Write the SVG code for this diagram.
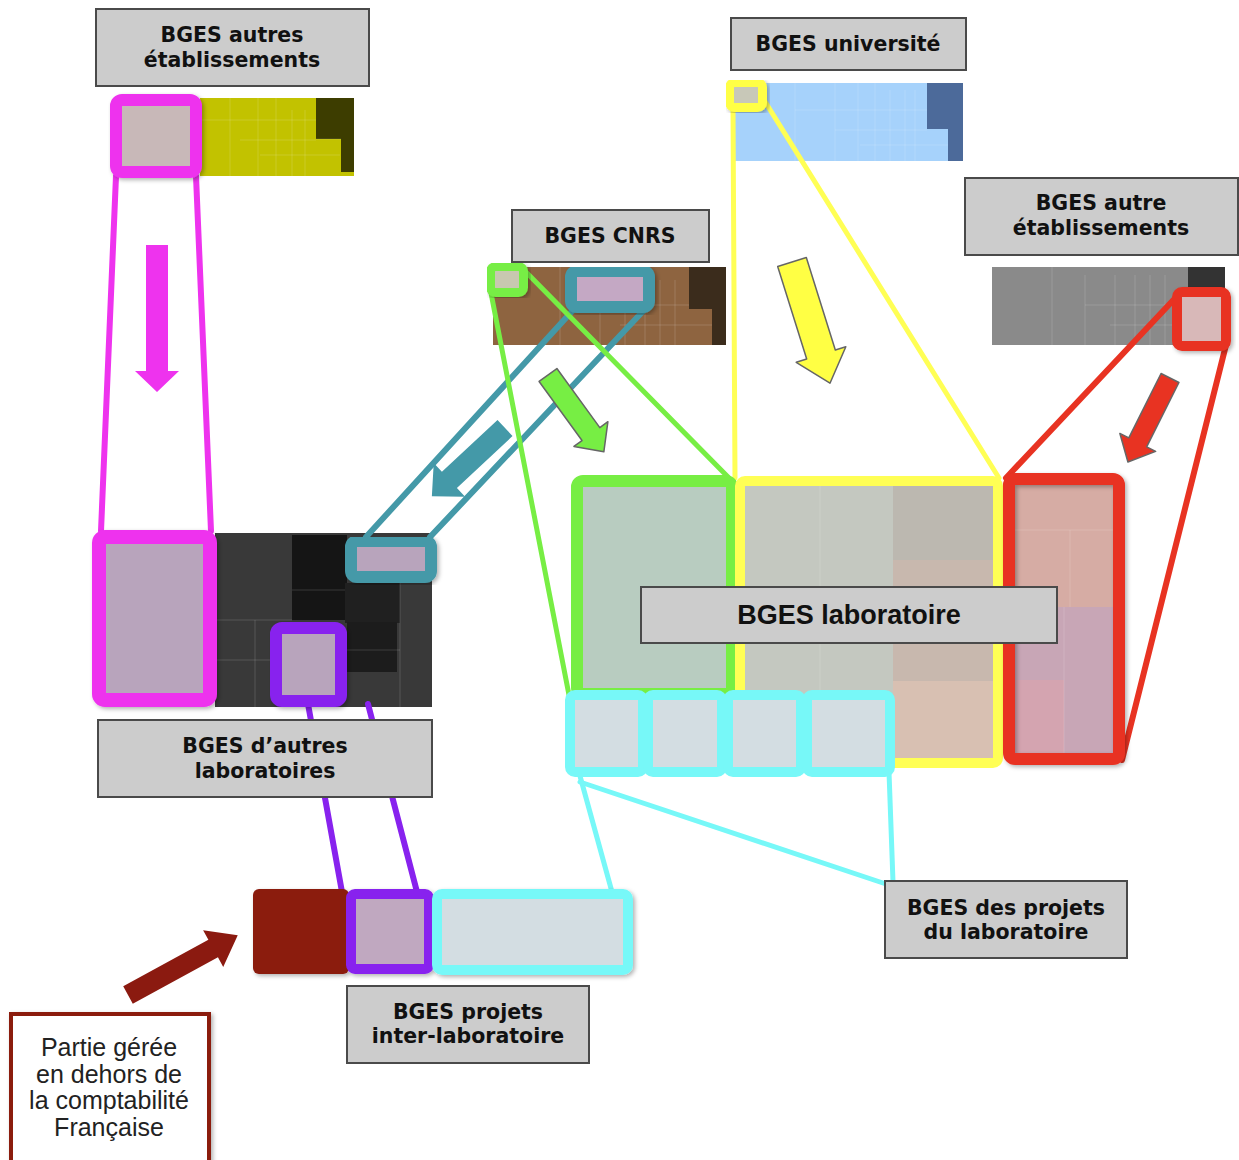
<svg xmlns="http://www.w3.org/2000/svg" width="1239" height="1160" viewBox="0 0 1239 1160">
<defs>
<style>
.lbl{fill:#cccccc;stroke:#4a4a4a;stroke-width:2}
.t{font-family:"DejaVu Sans",Verdana,sans-serif;font-weight:bold;font-size:20.5px;fill:#111;text-anchor:middle}
.tl{font-family:"Liberation Sans",Arial,sans-serif;font-weight:bold;font-size:27px;fill:#111;text-anchor:middle}
.tp{font-family:"Liberation Sans",Arial,sans-serif;font-size:25px;fill:#222;text-anchor:middle}
.ln{fill:none;stroke-linecap:round}
.grid{stroke:#ffffff;stroke-opacity:0.15;stroke-width:1;fill:none}
.arr{stroke:#666;stroke-width:1.5;stroke-linejoin:round}
</style>
<filter id="sh" x="-10%" y="-10%" width="130%" height="130%">
<feDropShadow dx="2" dy="2" stdDeviation="2" flood-color="#000" flood-opacity="0.3"/>
</filter>
</defs>
<rect width="1239" height="1160" fill="#ffffff"/>

<!-- treemaps -->
<g id="tm-autres-etab">
<rect x="200" y="98" width="154" height="78" fill="#c2c200"/>
<rect x="316" y="98" width="38" height="41" fill="#3d3d00"/>
<rect x="341" y="139" width="13" height="33" fill="#3d3d00"/>
<path class="grid" d="M230 98V176M258 98V176M276 98V176M292 110V176M305 110V176M200 120H316M240 140H316M260 155H340M316 139H341"/>
</g>
<g id="tm-universite">
<rect x="732" y="83" width="231" height="78" fill="#a6d2fb"/>
<rect x="927" y="83" width="36" height="46" fill="#4c6a9a"/>
<rect x="948" y="129" width="15" height="32" fill="#4c6a9a"/>
<path class="grid" d="M795 83V161M835 83V161M858 83V161M875 83V161M890 90V161M905 90V161M915 90V161M795 110H927M835 130H927M860 145H948"/>
</g>
<g id="tm-cnrs">
<rect x="493" y="267" width="233" height="78" fill="#8e6440"/>
<rect x="689" y="267" width="37" height="42" fill="#3b2c1c"/>
<rect x="712" y="309" width="14" height="36" fill="#3b2c1c"/>
<path class="grid" d="M560 267V345M600 280V345M625 280V345M645 280V345M660 280V345M675 280V345M600 305H689M620 325H712"/>
</g>
<g id="tm-autre-etab">
<rect x="992" y="267" width="233" height="78" fill="#8a8a8a"/>
<rect x="1188" y="267" width="37" height="24" fill="#333333"/>
<path class="grid" d="M1052 267V345M1085 275V345M1115 275V345M1135 275V345M1150 275V345M1165 275V345M1085 305H1188M1110 325H1188"/>
</g>
<g id="tm-autres-labos">
<rect x="215" y="533" width="217" height="174" fill="#393939"/>
<rect x="292" y="535" width="55" height="85" fill="#151515"/>
<rect x="345" y="583" width="55" height="40" fill="#202020"/>
<rect x="347" y="622" width="50" height="50" fill="#1c1c1c"/>
<path class="grid" d="M215 620H292M255 620V707M400 583V707M347 650H400M292 590H345M215 660H270"/>
</g>
<g id="tm-laboratoire">
<rect x="740" y="481" width="153" height="282" fill="#c4c8c0"/>
<rect x="893" y="481" width="105" height="200" fill="#bcb8b0"/>
<rect x="893" y="560" width="105" height="121" fill="#c8b8ae"/>
<rect x="893" y="681" width="105" height="82" fill="#d8c0b2"/>
<rect x="1009" y="479" width="110" height="128" fill="#d6aca4"/>
<rect x="1009" y="607" width="110" height="152" fill="#c8a6b6"/>
<rect x="1009" y="680" width="55" height="79" fill="#d4a4b0"/>
<path class="grid" d="M820 481V690M893 630H998M1070 530V607M1009 530H1119M1064 607V759"/>
</g>

<!-- connectors -->
<g id="connectors" class="ln">
<g stroke="#ee33ee" stroke-width="6">
<line x1="116" y1="176" x2="101" y2="531"/>
<line x1="196" y1="176" x2="211" y2="531"/>
</g>
<g stroke="#4499a8" stroke-width="6">
<line x1="575" y1="308" x2="366" y2="537"/>
<line x1="646" y1="308" x2="430" y2="537"/>
</g>
<g stroke="#77ee44" stroke-width="5">
<line x1="491" y1="293" x2="569" y2="695"/>
<line x1="522" y1="268" x2="729" y2="478"/>
</g>
<g stroke="#ffff55" stroke-width="5">
<line x1="733" y1="108" x2="735" y2="478"/>
<line x1="764" y1="100" x2="999" y2="478"/>
</g>
<g stroke="#e83322" stroke-width="6">
<line x1="1180" y1="293" x2="1006" y2="478"/>
<line x1="1226" y1="345" x2="1122" y2="760"/>
</g>
<g stroke="#8822ee" stroke-width="6">
<line x1="308" y1="704" x2="342" y2="892"/>
<line x1="368" y1="704" x2="417" y2="892"/>
</g>
<g stroke="#77f8f8" stroke-width="5">
<line x1="580" y1="776" x2="612" y2="892"/>
<line x1="580" y1="782" x2="886" y2="884"/>
<line x1="889" y1="772" x2="893" y2="882"/>
</g>
</g>

<!-- highlight boxes -->
<g id="hl-magenta-top" filter="url(#sh)"><rect x="116" y="100" width="80" height="72" rx="6" fill="#c8b8b8" stroke="#ee33ee" stroke-width="12"/></g>
<g id="hl-magenta-low" filter="url(#sh)"><rect x="99" y="537" width="111" height="163" rx="6" fill="#b8a4bc" stroke="#ee33ee" stroke-width="14"/></g>
<g id="hl-teal-low" filter="url(#sh)"><rect x="351" y="541" width="80" height="36" rx="6" fill="#b8a4bc" stroke="#4499a8" stroke-width="12"/></g>
<g id="hl-purple-low" filter="url(#sh)"><rect x="276" y="628" width="65" height="73" rx="6" fill="#b8a4bc" stroke="#8822ee" stroke-width="12"/></g>
<g id="hl-teal-cnrs" filter="url(#sh)"><rect x="571" y="271" width="78" height="36" rx="6" fill="#c4a8c4" stroke="#4499a8" stroke-width="12"/></g>
<g id="hl-green-cnrs" filter="url(#sh)"><rect x="490.5" y="266.5" width="33" height="26" rx="5" fill="#c8c8b0" stroke="#77ee44" stroke-width="9"/></g>
<g id="hl-yellow-univ" filter="url(#sh)"><rect x="729.5" y="82.5" width="33" height="25" rx="5" fill="#c8c8b8" stroke="#ffff44" stroke-width="9"/></g>
<g id="hl-red-autre" filter="url(#sh)"><rect x="1177" y="292" width="49" height="54" rx="5" fill="#d8b8b8" stroke="#e83322" stroke-width="10"/></g>
<g id="hl-green-lab"><rect x="577" y="481" width="155" height="213" rx="6" fill="#b8ccc0" stroke="#77ee44" stroke-width="12"/></g>
<g id="hl-yellow-lab"><rect x="740" y="481" width="258" height="282" rx="5" fill="none" stroke="#ffff55" stroke-width="10"/></g>
<g id="hl-red-lab" filter="url(#sh)"><rect x="1009" y="479" width="110" height="280" rx="6" fill="none" stroke="#e83322" stroke-width="12"/></g>
<g id="hl-cyan-lab" fill="#d3dde2" stroke="#77f8f8" stroke-width="10">
<rect x="570" y="695" width="73" height="77" rx="5"/>
<rect x="648" y="695" width="74" height="77" rx="5"/>
<rect x="728" y="695" width="73" height="77" rx="5"/>
<rect x="807" y="695" width="83" height="77" rx="5"/>
</g>
<g id="bar-inter-labo" filter="url(#sh)">
<rect x="253" y="889" width="96" height="85" rx="6" fill="#8b1a10"/>
<rect x="351" y="894" width="78" height="75" rx="4" fill="#c0a8c0" stroke="#8822ee" stroke-width="10"/>
<rect x="437" y="894" width="191" height="76" rx="5" fill="#d3dde2" stroke="#77f8f8" stroke-width="10"/>
</g>

<!-- block arrows -->
<g id="arrows">
<path transform="translate(157,245)" d="M-11 0H11V126H22L0 147L-22 126H-11Z" fill="#ee33ee"/>
<path transform="translate(505,428) rotate(47)" d="M-11 0H11V76H23L0 100L-23 76H-11Z" fill="#4499a8"/>
<path class="arr" transform="translate(548,375) rotate(-36)" d="M-11 0H11V73H21L0 95L-21 73H-11Z" fill="#77ee44"/>
<path class="arr" transform="translate(792,262) rotate(-17.4)" d="M-15 0H15V97H26L0 127L-26 97H-15Z" fill="#ffff44"/>
<path class="arr" transform="translate(1170,378) rotate(26.6)" d="M-10 0H10V72H20L0 94L-20 72H-10Z" fill="#e83322"/>
<path transform="translate(128,995) rotate(-118.6)" d="M-10 0H10V97H21L0 125L-21 97H-10Z" fill="#8b1a10"/>
</g>

<!-- labels -->
<g id="lbl-autres-etab"><rect class="lbl" x="96" y="9" width="273" height="77"/><text class="t" x="232" y="42">BGES autres</text><text class="t" x="232" y="67">établissements</text></g>
<g id="lbl-universite"><rect class="lbl" x="731" y="18" width="235" height="52"/><text class="t" x="848" y="51">BGES université</text></g>
<g id="lbl-cnrs"><rect class="lbl" x="512" y="210" width="197" height="52"/><text class="t" x="610" y="243">BGES CNRS</text></g>
<g id="lbl-autre-etab"><rect class="lbl" x="965" y="178" width="273" height="77"/><text class="t" x="1101" y="210">BGES autre</text><text class="t" x="1101" y="235">établissements</text></g>
<g id="lbl-laboratoire"><rect class="lbl" x="641" y="587" width="416" height="56"/><text class="tl" x="849" y="624">BGES laboratoire</text></g>
<g id="lbl-autres-labos"><rect class="lbl" x="98" y="720" width="334" height="77"/><text class="t" x="265" y="753">BGES d’autres</text><text class="t" x="265" y="778">laboratoires</text></g>
<g id="lbl-projets-labo"><rect class="lbl" x="885" y="881" width="242" height="77"/><text class="t" x="1006" y="915">BGES des projets</text><text class="t" x="1006" y="939">du laboratoire</text></g>
<g id="lbl-inter-labo"><rect class="lbl" x="347" y="986" width="242" height="77"/><text class="t" x="468" y="1019">BGES projets</text><text class="t" x="468" y="1043">inter-laboratoire</text></g>
<g id="lbl-hors-compta"><rect x="11" y="1014" width="198" height="150" fill="#ffffff" stroke="#8b1a10" stroke-width="4" filter="url(#sh)"/><text class="tp" x="109" y="1056">Partie gérée</text><text class="tp" x="109" y="1083">en dehors de</text><text class="tp" x="109" y="1109">la comptabilité</text><text class="tp" x="109" y="1136">Française</text></g>
</svg>
